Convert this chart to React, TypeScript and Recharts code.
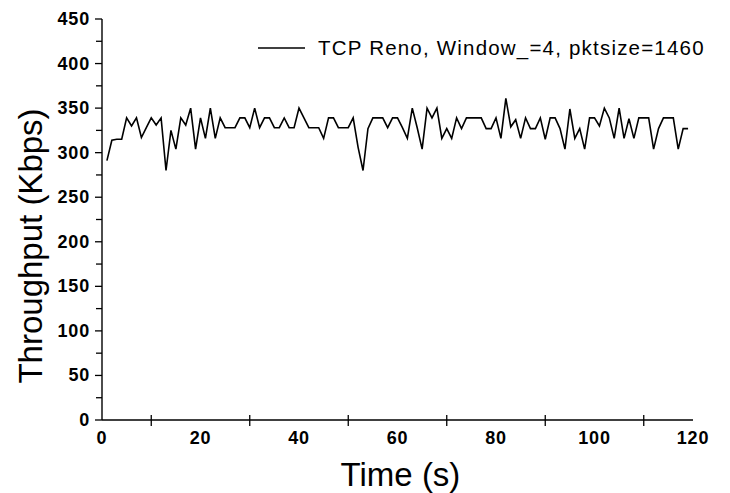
import React from 'react';
import { LineChart, Line, XAxis, YAxis, Legend } from 'recharts';

// throughput samples, one per second starting at t = 1 s
const throughput = [
  291, 314, 315, 315, 339, 330, 339, 317, 328, 339,
  331, 339, 280, 325, 304, 339, 331, 350, 304, 339,
  316, 350, 316, 339, 328, 328, 328, 339, 339, 328,
  350, 328, 339, 339, 328, 328, 339, 328, 328, 350,
  339, 328, 328, 328, 316, 339, 339, 328, 328, 328,
  339, 306, 280, 327, 339, 339, 339, 328, 339, 339,
  328, 316, 350, 328, 304, 350, 339, 350, 316, 327,
  316, 339, 327, 339, 339, 339, 339, 327, 327, 339,
  316, 361, 329, 337, 316, 339, 327, 327, 339, 315,
  339, 339, 327, 304, 349, 316, 327, 304, 339, 339,
  330, 350, 339, 316, 350, 316, 338, 316, 339, 339,
  339, 304, 327, 339, 339, 339, 304, 327, 327,
];
const startTime = 1;

const xTicks = [0, 10, 20, 30, 40, 50, 60, 70, 80, 90, 100, 110, 120];
const yTicks = [0, 25, 50, 75, 100, 125, 150, 175, 200, 225, 250, 275, 300, 325, 350, 375, 400, 425, 450];
const seriesName = 'TCP Reno, Window_=4, pktsize=1460';

const data = throughput.map((v, i) => ({ time: startTime + i, kbps: v }));

const FONT = '"Liberation Sans", Arial, sans-serif';

const XTick = (props: any) => {
  const { x, y, payload } = props;
  if (payload.value % 20 === 0) {
    return (
      <text x={x} y={y + 24} textAnchor="middle" fontFamily={FONT} fontWeight="bold" fontSize={18} letterSpacing={0.8} fill="#000">
        {payload.value}
      </text>
    );
  }
  return <line x1={x} x2={x} y1={y - 5} y2={y + 6} stroke="#000" strokeWidth={1.3} />;
};

const YTick = (props: any) => {
  const { x, y, payload } = props;
  const major = payload.value % 50 === 0;
  return (
    <g>
      <line x1={x - (major ? 7 : 6)} x2={x} y1={y} y2={y} stroke="#000" strokeWidth={1.3} />
      {major && (
        <text x={x - 12} y={y + 6} textAnchor="end" fontFamily={FONT} fontWeight="bold" fontSize={18} letterSpacing={0.8} fill="#000">
          {payload.value}
        </text>
      )}
    </g>
  );
};

const XTitle = ({ viewBox }: any) => (
  <text x={viewBox.x + viewBox.width / 2 + 3} y={486} textAnchor="middle" fontFamily={FONT} fontSize={33} fill="#000">
    Time (s)
  </text>
);

const YTitle = () => (
  <text x={42} y={246} transform="rotate(-90 42 246)" textAnchor="middle" fontFamily={FONT} fontSize={33} fill="#000">
    Throughput (Kbps)
  </text>
);

const LegendBox = ({ payload }: any) => {
  const name = payload && payload[0] ? payload[0].value : seriesName;
  return (
    <svg width={730} height={70} style={{ display: 'block' }}>
      <line x1={258} x2={305} y1={48} y2={48} stroke="#000" strokeWidth={1.3} />
      <text x={318} y={55} fontFamily={FONT} fontSize={20.5} letterSpacing={1.2} fill="#000">
        {name}
      </text>
    </svg>
  );
};

export default function App() {
  return (
    <div style={{ position: 'absolute', left: 0, top: 0, width: 730, height: 493, background: '#fff' }}>
      <LineChart width={730} height={493} data={data} margin={{ top: 19, right: 37, bottom: 33, left: 42 }}>
        <XAxis
          dataKey="time"
          type="number"
          domain={[0, 120]}
          ticks={xTicks}
          interval={0}
          tickSize={0}
          tickMargin={0}
          tickLine={false}
          tick={<XTick />}
          height={40}
          axisLine={{ stroke: '#000', strokeWidth: 1.4 }}
          label={<XTitle />}
        />
        <YAxis
          type="number"
          domain={[0, 450]}
          ticks={yTicks}
          interval={0}
          tickSize={0}
          tickMargin={0}
          tickLine={false}
          tick={<YTick />}
          width={60}
          axisLine={{ stroke: '#000', strokeWidth: 1.4 }}
          label={<YTitle />}
        />
        <Legend
          layout="horizontal"
          verticalAlign="middle"
          align="center"
          wrapperStyle={{ top: 0, left: 0, width: 730 }}
          content={<LegendBox />}
        />
        <Line
          type="linear"
          dataKey="kbps"
          name={seriesName}
          stroke="#000"
          strokeWidth={1.6}
          dot={false}
          isAnimationActive={false}
        />
      </LineChart>
    </div>
  );
}
